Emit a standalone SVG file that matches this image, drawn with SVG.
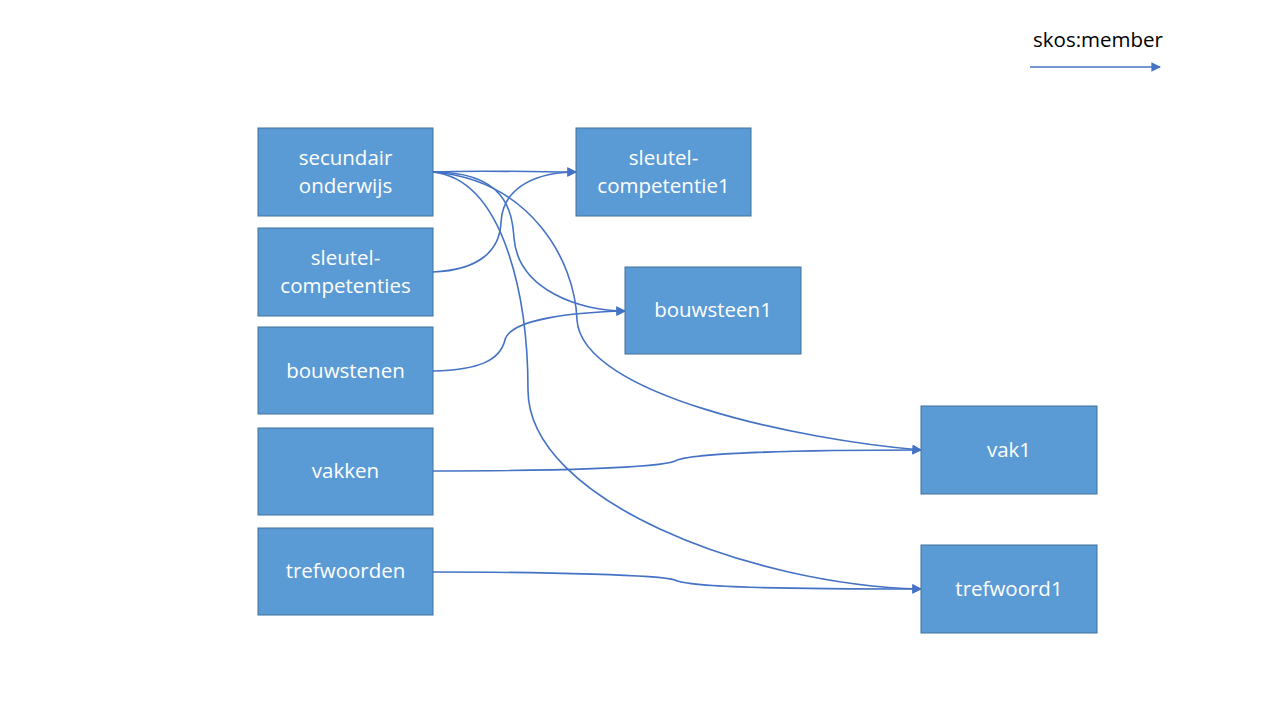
<svg xmlns="http://www.w3.org/2000/svg" width="1280" height="720" viewBox="0 0 1280 720">
<style>
.box{fill:#5B9BD5;stroke:#41719C;stroke-width:1}
.lbl{font-family:"Open Sans","Liberation Sans",sans-serif;font-size:20.5px;fill:#fff;text-anchor:middle}
.edge{fill:none;stroke:#4472C4;stroke-width:1.6;marker-end:url(#arr)}
</style>
<defs>
<marker id="arr" viewBox="0 0 10 10" refX="9" refY="5" markerWidth="6" markerHeight="6" orient="auto" markerUnits="strokeWidth">
<path d="M0,0 L10,5 L0,10 z" fill="#4472C4"/>
</marker>
</defs>
<rect width="1280" height="720" fill="#fff"/>
<g id="legend">
<text x="1098" y="47" font-family="'Open Sans','Liberation Sans',sans-serif" font-size="20.5" fill="#000" text-anchor="middle">skos:member</text>
<line x1="1030" y1="67" x2="1160" y2="67" class="edge"/>
</g>
<g id="connectors">
<path class="edge" d="M433,172 C480,170 530,172 576,172"/>
<path class="edge" d="M433,172 C505,172 512,210 514,238 C518,290 580,311 625,311"/>
<path class="edge" d="M433,172 C530,180 575,260 577,320 C582,395 800,440 921,450"/>
<path class="edge" d="M433,172 C505,180 528,300 528,390 C528,500 750,585 921,589"/>
<path class="edge" d="M433,272 C480,270 500,250 501,222 C503,185 540,172 576,172"/>
<path class="edge" d="M433,371 C480,370 500,360 505,340 C510,318 580,312 625,311"/>
<path class="edge" d="M433,471 C550,471 660,468 675,461 C690,453 800,450 921,450"/>
<path class="edge" d="M433,572 C550,572 660,575 675,580 C690,588 800,589 921,589"/>
</g>
<g id="secundair"><rect class="box" x="258" y="128" width="175" height="88"/><text class="lbl" x="345.5" y="165">secundair</text><text class="lbl" x="345.5" y="193">onderwijs</text></g>
<g id="sleutelcompetenties"><rect class="box" x="258" y="228" width="175" height="88"/><text class="lbl" x="345.5" y="265">sleutel-</text><text class="lbl" x="345.5" y="293">competenties</text></g>
<g id="bouwstenen"><rect class="box" x="258" y="327" width="175" height="87"/><text class="lbl" x="345.5" y="378">bouwstenen</text></g>
<g id="vakken"><rect class="box" x="258" y="428" width="175" height="87"/><text class="lbl" x="345.5" y="478">vakken</text></g>
<g id="trefwoorden"><rect class="box" x="258" y="528" width="175" height="87"/><text class="lbl" x="345.5" y="578">trefwoorden</text></g>
<g id="sleutelcompetentie1"><rect class="box" x="576" y="128" width="175" height="88"/><text class="lbl" x="663.5" y="165">sleutel-</text><text class="lbl" x="663.5" y="193">competentie1</text></g>
<g id="bouwsteen1"><rect class="box" x="625" y="267" width="176" height="87"/><text class="lbl" x="713" y="317">bouwsteen1</text></g>
<g id="vak1"><rect class="box" x="921" y="406" width="176" height="88"/><text class="lbl" x="1009" y="457">vak1</text></g>
<g id="trefwoord1"><rect class="box" x="921" y="545" width="176" height="88"/><text class="lbl" x="1009" y="596">trefwoord1</text></g>
</svg>
